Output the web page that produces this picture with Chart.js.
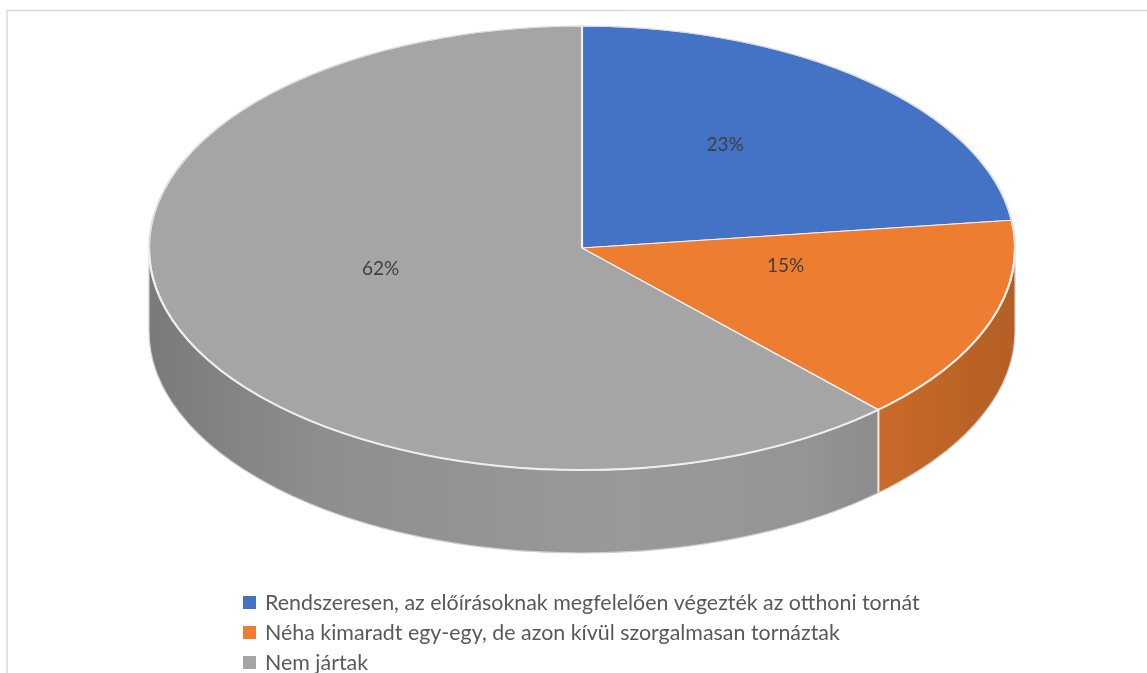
<!DOCTYPE html>
<html>
<head>
<meta charset="utf-8">
<script src="https://cdn.jsdelivr.net/npm/chart.js@4/dist/chart.umd.min.js"></script>
<style>
  html, body { margin: 0; padding: 0; background: #ffffff; }
  #wrap { width: 1147px; height: 673px; }
</style>
</head>
<body>
<div id="wrap"><canvas id="c" width="1147" height="673"></canvas></div>
<script>
// ---- data ----
const categories = [
  'Rendszeresen, az előírásoknak megfelelően végezték az otthoni tornát',
  'Néha kimaradt egy-egy, de azon kívül szorgalmasan tornáztak',
  'Nem jártak'
];
const shares = [23, 15, 62];
const sliceColors = ['#4472C4', '#ED7D31', '#A5A5A5'];

// ---- 3D look (layout constants) ----
const RX = 433, RY = 222, DEPTH = 83;

function shade(hex, f) {
  const n = parseInt(hex.slice(1), 16);
  const r = Math.round(((n >> 16) & 255) * f);
  const g = Math.round(((n >> 8) & 255) * f);
  const b = Math.round((n & 255) * f);
  return `rgb(${r},${g},${b})`;
}

const pie3d = {
  id: 'pie3d',
  beforeDraw(chart) {
    const ctx = chart.ctx;
    ctx.save();
    ctx.strokeStyle = '#d9d9d9';
    ctx.lineWidth = 1.5;
    ctx.strokeRect(7, 10.5, 1300, 900);
    ctx.restore();
  },
  beforeDatasetsDraw(chart) {
    const ctx = chart.ctx;
    const meta = chart.getDatasetMeta(0);
    const a0 = meta.data[0];
    const cx = a0.x, cy = a0.y, R = a0.outerRadius;
    meta.data.forEach((arc, i) => {
      const s = Math.max(arc.startAngle, 0);
      const e = Math.min(arc.endAngle, Math.PI);
      if (e <= s) return;
      const base = chart.data.datasets[0].backgroundColor[i];
      const g = ctx.createLinearGradient(cx - RX, 0, cx + RX, 0);
      g.addColorStop(0, shade(base, 0.74));
      g.addColorStop(0.2, shade(base, 0.86));
      g.addColorStop(0.55, shade(base, 0.93));
      g.addColorStop(0.75, shade(base, 0.9));
      g.addColorStop(1, shade(base, 0.76));
      ctx.save();
      ctx.beginPath();
      ctx.ellipse(cx, cy, RX, RY, 0, s, e);
      ctx.ellipse(cx, cy + DEPTH, RX, RY, 0, e, s, true);
      ctx.closePath();
      ctx.fillStyle = g;
      ctx.fill();
      ctx.restore();
    });
    ctx.save();
    ctx.strokeStyle = '#f3ece6';
    ctx.lineWidth = 2;
    meta.data.forEach(arc => {
      const t = arc.startAngle;
      if (t > 0 && t < Math.PI) {
        const x = cx + RX * Math.cos(t), y = cy + RY * Math.sin(t);
        ctx.beginPath();
        ctx.moveTo(x, y);
        ctx.lineTo(x, y + DEPTH);
        ctx.stroke();
      }
    });
    ctx.strokeStyle = '#cfcfcf';
    ctx.lineWidth = 1.2;
    ctx.beginPath();
    ctx.moveTo(cx - RX, cy);
    ctx.ellipse(cx, cy + DEPTH, RX, RY, 0, Math.PI, 0, true);
    ctx.lineTo(cx + RX, cy);
    ctx.stroke();
    ctx.restore();
    ctx.save();
    ctx.translate(cx, cy);
    ctx.scale(RX / R, RY / R);
    ctx.translate(-cx, -cy);
  },
  afterDatasetsDraw(chart) {
    const ctx = chart.ctx;
    ctx.restore();
    const meta = chart.getDatasetMeta(0);
    const a0 = meta.data[0];
    const cx = a0.x, cy = a0.y;
    ctx.save();
    ctx.strokeStyle = '#dcdcdc';
    ctx.lineWidth = 1.2;
    ctx.beginPath();
    ctx.ellipse(cx, cy, RX, RY, 0, Math.PI, 2 * Math.PI);
    ctx.stroke();
    ctx.strokeStyle = '#eeeeee';
    ctx.lineWidth = 2;
    ctx.beginPath();
    ctx.ellipse(cx, cy, RX, RY, 0, 0, Math.PI);
    ctx.stroke();
    ctx.restore();
    const data = chart.data.datasets[0].data;
    const total = data.reduce((a, b) => a + b, 0);
    ctx.save();
    ctx.font = '19px Lato';
    ctx.fillStyle = '#404040';
    ctx.textAlign = 'center';
    ctx.textBaseline = 'middle';
    meta.data.forEach((arc, i) => {
      const m = (arc.startAngle + arc.endAngle) / 2;
      const x = cx + 0.5 * RX * Math.cos(m);
      const y = cy + 0.5 * RY * Math.sin(m) - 20;
      ctx.fillText(Math.round(data[i] / total * 100) + '%', x, y);
    });
    ctx.restore();
  },
  afterDraw(chart) {
    const ctx = chart.ctx;
    const rows = [602, 632, 662];
    ctx.save();
    ctx.font = '21.4px Lato';
    ctx.textBaseline = 'middle';
    chart.data.labels.forEach((lab, i) => {
      const y = rows[i];
      ctx.fillStyle = chart.data.datasets[0].backgroundColor[i];
      ctx.fillRect(243, y - 6, 13, 13);
      ctx.fillStyle = '#595959';
      ctx.fillText(lab, 265, y + 1);
    });
    ctx.restore();
  }
};

new Chart(document.getElementById('c'), {
  type: 'pie',
  data: {
    labels: categories,
    datasets: [{
      data: shares,
      backgroundColor: sliceColors,
      borderColor: '#f2f2f2',
      borderWidth: 1.2
    }]
  },
  options: {
    responsive: false,
    animation: false,
    layout: { padding: { left: 17, right: 0, top: 0, bottom: 177 } },
    plugins: {
      legend: { display: false },
      tooltip: { enabled: false }
    }
  },
  plugins: [pie3d]
});
</script>
</body>
</html>
